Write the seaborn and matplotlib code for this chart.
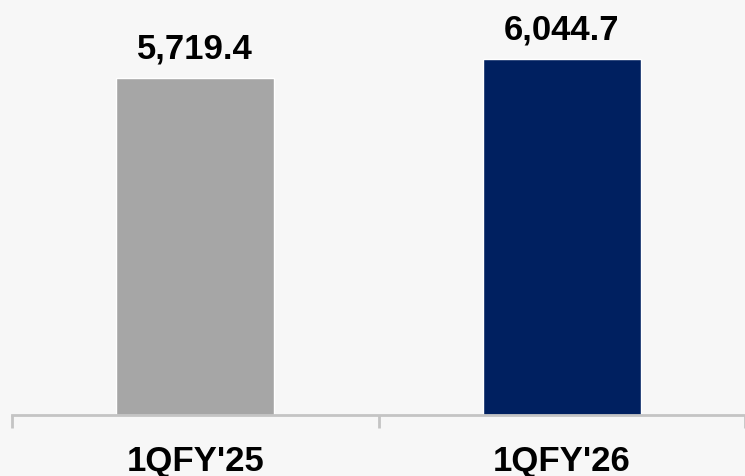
import matplotlib
matplotlib.use("Agg")
import matplotlib.pyplot as plt
import seaborn as sns
import pandas as pd

categories = ["1QFY'25", "1QFY'26"]
values = [5719.4, 6044.7]
value_labels = ["5,719.4", "6,044.7"]
bar_colors = ["#a6a6a6", "#002060"]

sns.set_theme(style="white")
plt.rcParams["font.family"] = ["Liberation Sans", "DejaVu Sans"]

df = pd.DataFrame({"period": categories, "value": values})

fig = plt.figure(figsize=(7.45, 4.77), dpi=100)
fig.patch.set_facecolor("#f7f7f7")
ax = fig.add_axes([12 / 745, 1 - 416 / 477, 1 - 12 / 745, (416 - 3.7) / 477])
ax.set_facecolor("none")

sns.barplot(data=df, x="period", y="value", hue="period",
            palette=dict(zip(categories, bar_colors)), width=0.43,
            legend=False, ax=ax, saturation=1)

ax.set_xlim(-0.5, 1.5)
ax.set_ylim(0, 7000)
ax.set_xlabel("")
ax.set_ylabel("")
ax.set_yticks([])

for side in ["left", "top", "right"]:
    ax.spines[side].set_visible(False)
ax.spines["bottom"].set_color("#c4c4c4")
ax.spines["bottom"].set_linewidth(2)

ax.set_xticks([0, 1])
ax.set_xticklabels(categories, fontsize=25, fontweight="bold", color="#000000")
ax.tick_params(axis="x", which="major", bottom=True, length=0, pad=21)
ax.set_xticks([-0.5, 0.5, 1.5], minor=True)
ax.tick_params(axis="x", which="minor", bottom=True, length=9, width=2,
               color="#c4c4c4")

for i, (v, lab) in enumerate(zip(values, value_labels)):
    ax.annotate(lab, xy=(i, v), xytext=(0, 15), textcoords="offset points",
                ha="center", va="baseline", fontsize=25, fontweight="bold",
                color="#000000")

fig.savefig("out.png", dpi=100, facecolor=fig.get_facecolor())
